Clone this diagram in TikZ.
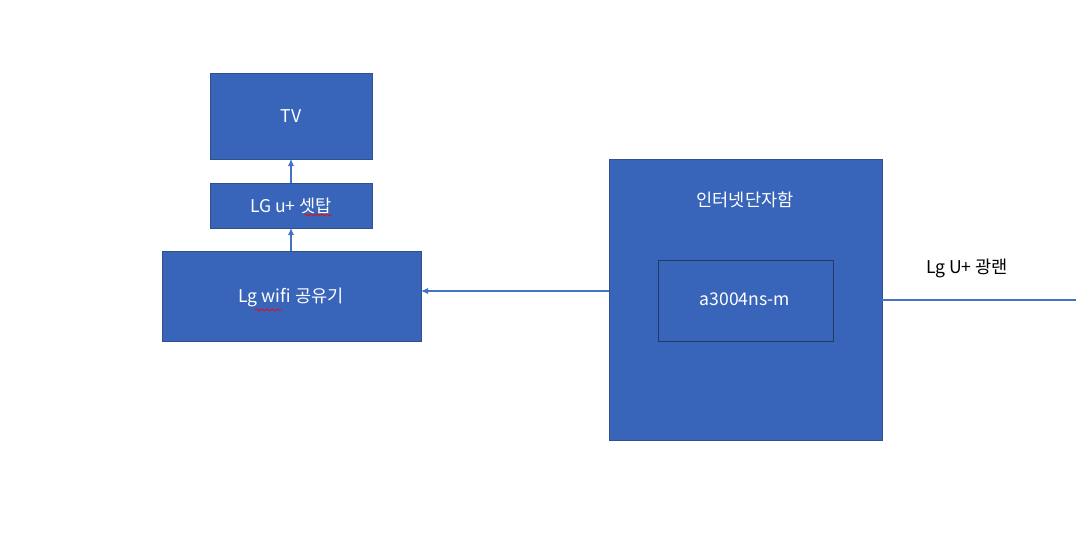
\documentclass[tikz,border=0pt]{standalone}
\usepackage{fontspec}
\setmainfont{Noto Sans CJK KR}
\usetikzlibrary{arrows.meta,decorations.pathmorphing}
\definecolor{boxblue}{RGB}{56,100,185}
\definecolor{boxline}{RGB}{47,82,143}
\definecolor{linkblue}{RGB}{68,114,196}
\tikzset{
  blk/.style={draw=boxline,fill=boxblue,text=white,font=\fontsize{10}{12}\selectfont},
  lnk/.style={draw=linkblue,line width=0.6pt,-{Latex[length=4pt,width=3.5pt]}},
  wavy/.style={draw=red,line width=0.4pt,decorate,decoration={snake,amplitude=0.6pt,segment length=3pt}}
}
\begin{document}
\begin{tikzpicture}[x=0.02cm,y=-0.02cm]
  \useasboundingbox (0,0) rectangle (1076,535);
  % boxes
  \draw [blk] (210,73) rectangle (372,159);
  \node [text=white,font=\fontsize{10}{12}\selectfont] (tv) at (291,116) {TV};
  \draw [blk] (210,183) rectangle (372,228);
  \node [text=white,font=\fontsize{10}{12}\selectfont] (stb) at (291,206) {LG u+ 셋탑};
  \draw [blk] (162,251) rectangle (421,341);
  \node [text=white,font=\fontsize{10}{12}\selectfont] (wifi) at (291,297) {Lg wifi 공유기};
  \draw [blk] (609,159) rectangle (882,440);
  \node [text=white,font=\fontsize{10}{12}\selectfont] (box) at (745,200) {인터넷단자함};
  \draw [blk,draw=boxline!70!black] (658,260) rectangle (833,341);
  \node [text=white,font=\fontsize{10}{12}\selectfont] (onu) at (745,299) {a3004ns-m};
  \node [font=\fontsize{10}{12}\selectfont] (fiber) at (967,268) {Lg U+ 광랜};
  % anchors
  \coordinate (tvb) at (291,159);
  \coordinate (stbt) at (291,183);
  \coordinate (stbb) at (291,228);
  \coordinate (wifit) at (291,251);
  \coordinate (wifir) at (421,291);
  \coordinate (boxl) at (609,291);
  \coordinate (boxr) at (882,300);
  \coordinate (line) at (1076,300);
  % links
  \draw [lnk] (stbt) -- (tvb);
  \draw [lnk] (wifit) -- (stbb);
  \draw [lnk] (boxl) -- (wifir);
  \draw [draw=linkblue,line width=0.6pt] (line) -- (boxr);
  % spell marks
  \draw [wavy] (304,215) -- (332,215);
  \draw [wavy] (255,310) -- (282,310);
\end{tikzpicture}
\end{document}
